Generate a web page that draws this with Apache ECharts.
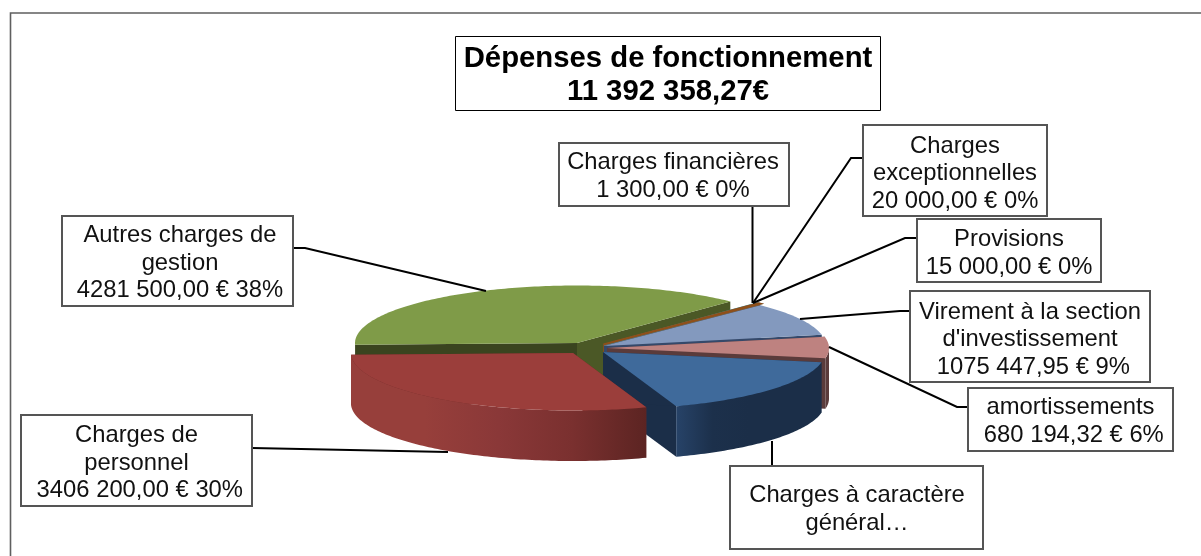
<!DOCTYPE html>
<html>
<head>
<meta charset="utf-8">
<style>html,body{margin:0;padding:0;background:#fff}#c{width:1201px;height:556px}</style>
<script src="https://cdn.jsdelivr.net/npm/echarts@6/dist/echarts.min.js"></script>
</head>
<body>
<div id="c"></div>
<script>
// ---- data ----
const categories = ["Charges à caractère général","Charges de personnel","Autres charges de gestion","Charges financières","Charges exceptionnelles","Provisions","Virement à la section d'investissement","amortissements"];
const values = [1912716.00,3406200.00,4281500.00,1300.00,20000.00,15000.00,1075447.95,680194.32];
const labelTexts = [
  "Charges à caractère\ngénéral…",
  "Charges de\npersonnel\n 3406 200,00 € 30%",
  "Autres charges de\ngestion\n4281 500,00 € 38%",
  "Charges financières\n1 300,00 € 0%",
  "Charges\nexceptionnelles\n20 000,00 € 0%",
  "Provisions\n15 000,00 € 0%",
  "Virement à la section\nd'investissement\n 1075 447,95 € 9%",
  "amortissements\n 680 194,32 € 6%"
];
const titleText = "Dépenses de fonctionnement\n11 392 358,27€";

// ---- layout and style ----
const START_ANGLE = 100.3, RX = 222, RY = 57.5, DEPTH = 50.5;
const FONT = '"Liberation Sans", Arial, sans-serif';
const centers = [[603,352],[573,353],[577,343],[604,345],[604,345],[603.5,344.5],[604,346],[607,348]];
const paintOrder = [5,6,1,2,2,2,3,4];
const topFill = ['#3F6A9B','#9B3E3B','#7F9B48','#5F4B7A','#3C8A9E','#A8621F','#8399BE','#BE8280'];
const topStroke = [null,null,null,null,'#3C8A9E','#8F4F1A',null,null];
const cutFill = [['#1B2E48','#1B2E48'],['#6E2B29','#6E2B29'],['#3A441F','#4B5826'],['#4A3A5E','#4A3A5E'],['#2A6372','#2A6372'],['#8F4F1A','#8F4F1A'],['#35496A','#35496A'],['#5A3B3B','#5A3B3B']];
const grad = (stops) => new echarts.graphic.LinearGradient(0,0,1,0,stops.map((c,i)=>({offset:i/(stops.length-1),color:c})));
const wallFill = [
  grad(['#274368','#1C304B','#1B2E48','#1B2E48','#1B2E48']),
  grad(['#973F3B','#973F3B','#8A3838','#7A302F','#5C2422']),
  '#3A441F','#4A3A5E','#2A6372','#8F4F1A','#35496A','#5A3B3B'
];
const boxes = [[730,466,983,549],[21,415,252,506],[62,216,293,306],[559,143,789,206],[863,125,1047,216],[917,219,1101,282],[910,291,1150,382],[968,388,1173,451]];
const textPos = [[857,509.5],[136.5,463],[180,263],[673,176.5],[955,173.5],[1009,253.5],[1030,339.5],[1070.5,421.5]];
const leaders = [
  [[772,466],[772,441]],
  [[252,448],[448,452]],
  [[293,248],[305,248],[486,291]],
  [[752.5,206],[752.5,303]],
  [[863,158],[851,158],[753,303]],
  [[917,238],[905,238],[753,303]],
  [[910,311],[900,311],[800,319]],
  [[968,407],[957,407],[829,347]]
];

const total = values.reduce((a,b)=>a+b,0);
const rim = (c,deg,dy) => {
  const t = deg*Math.PI/180;
  return [c[0]+RX*Math.sin(t), c[1]-RY*Math.cos(t)+(dy||0)];
};
const arc = (c,a0,a1,dy) => {
  const pts = [], n = Math.max(2,Math.ceil(Math.abs(a1-a0)));
  for (let k=0;k<=n;k++) pts.push(rim(c,a0+(a1-a0)*k/n,dy));
  return pts;
};

function renderSlice(params, api){
  const i = params.dataIndex;
  const a0 = START_ANGLE + values.slice(0,i).reduce((a,b)=>a+b,0)/total*360;
  const a1 = a0 + api.value(0)/total*360;
  const c = centers[i], z = paintOrder[i]*10, kids = [];
  const quad = (deg,fill)=>{
    const r = rim(c,deg);
    kids.push({type:'polygon',z2:z,shape:{points:[c,r,[r[0],r[1]+DEPTH],[c[0],c[1]+DEPTH]]},style:{fill}});
  };
  quad(a1,cutFill[i][1]);
  quad(a0,cutFill[i][0]);
  // outer wall: only the part of the rim facing the viewer
  [0,360].forEach(turn=>{
    const w0 = Math.max(a0,90+turn), w1 = Math.min(a1,270+turn);
    if (w1>w0){
      const pts = arc(c,w0,w1,0).concat(arc(c,w1,w0,DEPTH));
      kids.push({type:'polygon',z2:z+1,shape:{points:pts},style:{fill:wallFill[i]}});
    }
  });
  // top face
  kids.push({type:'polygon',z2:z+2,shape:{points:[c].concat(arc(c,a0,a1,0))},
    style:topStroke[i]?{fill:topFill[i],stroke:topStroke[i],lineWidth:2.2}:{fill:topFill[i]}});
  // leader, box, label
  kids.push({type:'polyline',z2:100,shape:{points:leaders[i]},style:{stroke:'#000',lineWidth:2,fill:null}});
  const b = boxes[i];
  kids.push({type:'rect',z2:101,shape:{x:b[0],y:b[1],width:b[2]-b[0],height:b[3]-b[1]},style:{fill:'#fff',stroke:'#555',lineWidth:2}});
  kids.push({type:'text',z2:102,style:{text:labelTexts[i],x:textPos[i][0],y:textPos[i][1],align:'center',verticalAlign:'middle',
    fill:'#111',font:'23.8px '+FONT,lineHeight:27.5}});
  return {type:'group',children:kids};
}

const chart = echarts.init(document.getElementById('c'),null,{renderer:'canvas'});
chart.setOption({
  animation:false,
  backgroundColor:'#fff',
  graphic:[
    {type:'polyline',silent:true,shape:{points:[[10.5,556],[10.5,13],[1201,13]]},style:{stroke:'#5f5f5f',lineWidth:1.6,fill:null}},
    {type:'rect',silent:true,z:5,shape:{x:455.5,y:36.5,width:425,height:74},style:{fill:'#fff',stroke:'#000',lineWidth:1}},
    {type:'text',silent:true,z:6,x:668,y:75.5,style:{text:titleText,align:'center',verticalAlign:'middle',fill:'#000',font:'bold 29.3px '+FONT,lineHeight:33}}
  ],
  series:[{
    type:'custom',
    name:'Dépenses de fonctionnement',
    coordinateSystem:'none',
    renderItem:renderSlice,
    data:categories.map((n,i)=>({name:n,value:[values[i]]})),
    silent:true
  }]
});
</script>
</body>
</html>
